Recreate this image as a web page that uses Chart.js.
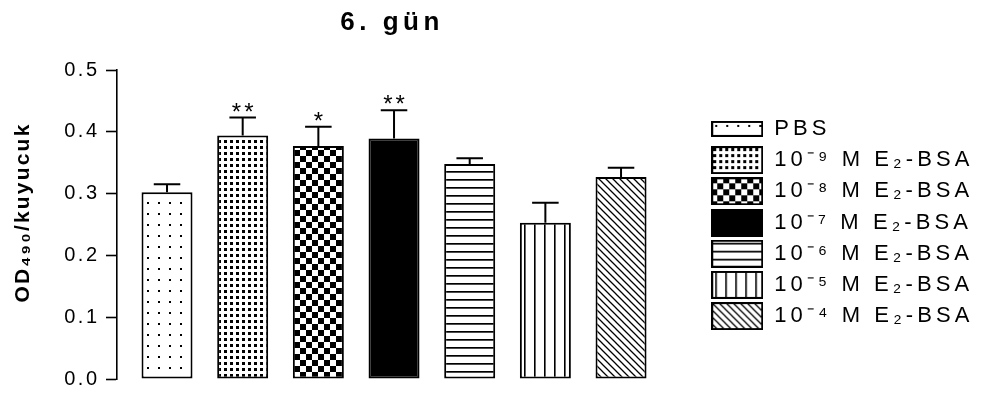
<!DOCTYPE html>
<html>
<head>
<meta charset="utf-8">
<script src="https://cdn.jsdelivr.net/npm/chart.js@4.4.1/dist/chart.umd.min.js"></script>
<style>
  html, body { margin: 0; padding: 0; background: #fff; }
  #wrap { width: 981px; height: 394px; }
</style>
</head>
<body>
<div id="wrap"><canvas id="c" width="981" height="394"></canvas></div>
<script>
// ---- data ----
const chartTitle = '6. gün';
const yAxisTitle = 'OD₄₉₀/kuyucuk';
const categories = ['PBS', '10⁻⁹ M E₂-BSA', '10⁻⁸ M E₂-BSA', '10⁻⁷ M E₂-BSA', '10⁻⁶ M E₂-BSA', '10⁻⁵ M E₂-BSA', '10⁻⁴ M E₂-BSA'];
const means = [0.302, 0.394, 0.377, 0.389, 0.348, 0.253, 0.327];
const sems = [0.013, 0.029, 0.031, 0.046, 0.009, 0.032, 0.015];
const stars = ['', '**', '*', '**', '', '', ''];
const yTickValues = [0.0, 0.1, 0.2, 0.3, 0.4, 0.5];

// ---- patterns ----
function tileCanvas(w, h, draw) {
  const c = document.createElement('canvas');
  c.width = w; c.height = h;
  const g = c.getContext('2d');
  g.fillStyle = '#fff'; g.fillRect(0, 0, w, h);
  g.fillStyle = '#000'; g.strokeStyle = '#000';
  draw(g, w, h);
  return c;
}
const tiles = [
  tileCanvas(11, 11, g => { g.fillRect(4, 4, 2, 2); }),
  tileCanvas(6, 6, g => { g.fillRect(2, 2, 3, 3); }),
  tileCanvas(12, 12, g => { g.fillRect(0, 0, 6, 6); g.fillRect(6, 6, 6, 6); }),
  null,
  tileCanvas(8, 8, g => { g.fillRect(0, 3, 8, 1.7); }),
  tileCanvas(10, 10, g => { g.fillRect(4, 0, 1.6, 10); }),
  tileCanvas(7, 7, g => { g.lineWidth = 1.3; g.beginPath(); g.moveTo(-1, -1); g.lineTo(8, 8); g.moveTo(-8, -1); g.lineTo(1, 8); g.moveTo(6, -1); g.lineTo(15, 8); g.stroke(); })
];
const ctx0 = document.getElementById('c').getContext('2d');
const patterns = tiles.map(t => t ? ctx0.createPattern(t, 'repeat') : '#000000');

// legend swatches (PBS swatch is a flatter box, as in the original legend)
function swatch(i, w, h) {
  const c = document.createElement('canvas');
  c.width = w; c.height = h;
  const g = c.getContext('2d');
  g.fillStyle = tiles[i] ? g.createPattern(tiles[i], 'repeat') : '#000';
  g.fillRect(0, 0, w, h);
  g.strokeStyle = '#000'; g.lineWidth = 2;
  g.strokeRect(1, 1, w - 2, h - 2);
  return c;
}
const swatches = categories.map((c, i) => swatch(i, 52, i === 0 ? 16 : 28));

const FONT = "'Liberation Sans', Arial, sans-serif";
Chart.defaults.font.family = FONT;
Chart.defaults.color = '#000';

function wrap(obj, name, ls, dx, dy) {
  if (!obj || obj['__w_' + name]) return;
  const orig = obj[name];
  obj[name] = function (...a) {
    const c = this.ctx;
    c.save();
    c.letterSpacing = ls;
    c.translate(dx, dy);
    const r = orig.apply(this, a);
    c.restore();
    return r;
  };
  obj['__w_' + name] = true;
}

const stylePlugin = {
  id: 'stylePlugin',
  beforeLayout(chart) {
    const lg = chart.legend;
    if (lg && !lg.__wfit) {
      const f = lg.fit;
      lg.fit = function () { f.call(this); this.width = 274; };
      lg.__wfit = true;
    }
  },
  beforeDraw(chart) {
    wrap(chart.titleBlock, 'draw', '4.5px', -20, 0);
    wrap(chart.legend, 'draw', '4.1px', -5, -2);
    wrap(chart.scales.y, 'drawLabels', '2.5px', 0, 0);
    wrap(chart.scales.y, 'drawTitle', '2.2px', 0, -12);
  }
};

const errorBarPlugin = {
  id: 'errorBars',
  afterDatasetsDraw(chart) {
    const meta = chart.getDatasetMeta(0);
    const ys = chart.scales.y;
    const ctx = chart.ctx;
    ctx.save();
    ctx.strokeStyle = '#000';
    ctx.fillStyle = '#000';
    ctx.lineWidth = 2;
    meta.data.forEach((bar, i) => {
      const top = ys.getPixelForValue(means[i] + sems[i]);
      const half = bar.width * 0.26;
      ctx.beginPath();
      ctx.moveTo(bar.x, bar.y);
      ctx.lineTo(bar.x, top);
      ctx.moveTo(bar.x - half, top);
      ctx.lineTo(bar.x + half, top);
      ctx.stroke();
      if (stars[i]) {
        ctx.font = '24px ' + FONT;
        ctx.letterSpacing = '3px';
        ctx.textAlign = 'center';
        ctx.textBaseline = 'alphabetic';
        ctx.fillText(stars[i], bar.x + 1.5, top + 2);
      }
    });
    ctx.restore();
  }
};

new Chart(document.getElementById('c'), {
  type: 'bar',
  data: {
    datasets: [{
      data: means.map((v, i) => ({ x: i, y: v })),
      backgroundColor: patterns,
      borderColor: '#000',
      borderWidth: 2,
      borderSkipped: false,
      categoryPercentage: 1,
      barPercentage: 0.674
    }]
  },
  options: {
    responsive: false,
    devicePixelRatio: 1,
    animation: false,
    events: [],
    layout: { padding: { left: 0, right: 0, top: 0, bottom: 15 } },
    scales: {
      x: {
        type: 'linear',
        display: false,
        offset: false,
        min: -0.661,
        max: 7.136
      },
      y: {
        min: 0,
        max: 0.5,
        afterFit(s) { s.width = 117; s.paddingTop = 0; s.paddingBottom = 0; },
        afterBuildTicks(s) { s.ticks = yTickValues.map(v => ({ value: v })); },
        ticks: {
          padding: 6.5,
          font: { size: 20 },
          color: '#000',
          callback: v => Number(v).toFixed(1)
        },
        grid: { drawOnChartArea: false, drawTicks: true, tickLength: 11, tickColor: '#000', tickWidth: 1.6 },
        border: { display: true, color: '#000', width: 1.6 },
        title: {
          display: true,
          text: yAxisTitle,
          font: { size: 21, weight: 'bold', lineHeight: 1.2 },
          color: '#000',
          padding: { top: 10.4, bottom: 0 }
        }
      }
    },
    plugins: {
      title: {
        display: true,
        text: chartTitle,
        fullSize: false,
        color: '#000',
        font: { size: 26, weight: 'bold', lineHeight: 1.2 },
        padding: { top: 7.4, bottom: 31.4 }
      },
      legend: {
        display: true,
        position: 'right',
        align: 'center',
        fullSize: false,
        onClick: () => {},
        labels: {
          usePointStyle: true,
          pointStyleWidth: 52,
          boxHeight: 22,
          padding: 9.2,
          color: '#000',
          font: { size: 22 },
          generateLabels: () => categories.map((c, i) => ({
            text: c,
            fillStyle: patterns[i],
            strokeStyle: '#000',
            lineWidth: 1.5,
            pointStyle: swatches[i],
            hidden: false,
            index: i,
            datasetIndex: 0
          }))
        }
      },
      tooltip: { enabled: false }
    }
  },
  plugins: [stylePlugin, errorBarPlugin]
});
</script>
</body>
</html>
